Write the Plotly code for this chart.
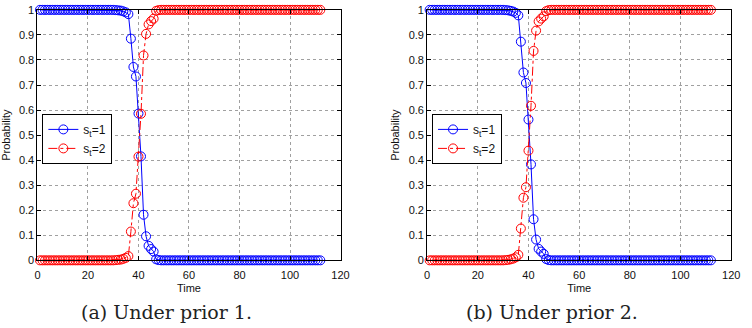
import plotly.graph_objects as go

t = list(range(1, 113))

# Panel (a): Under prior 1 -- transition values
a_trans_t = [31, 32, 33, 34, 35, 36, 37, 38, 39, 40, 41, 42, 43, 44, 45, 46, 47, 48]
a_trans_p1 = [0.999, 0.998, 0.997, 0.994, 0.99, 0.983, 0.885, 0.772, 0.734, 0.586,
              0.415, 0.182, 0.096, 0.058, 0.045, 0.035, 0.004, 0.001]
# Panel (b): Under prior 2
b_trans_t = [31, 32, 33, 34, 35, 36, 37, 38, 39, 40, 41, 42, 43, 44, 45, 46, 47, 48]
b_trans_p1 = [0.999, 0.998, 0.996, 0.993, 0.988, 0.978, 0.873, 0.75, 0.708, 0.562,
              0.383, 0.164, 0.083, 0.046, 0.035, 0.026, 0.005, 0.001]


def build(trans_t, trans_p1):
    p1 = []
    for ti in t:
        if ti in trans_t:
            p1.append(trans_p1[trans_t.index(ti)])
        elif ti < trans_t[0]:
            p1.append(1.0)
        else:
            p1.append(0.0)
    p2 = [round(1 - v, 4) for v in p1]
    return p1, p2


a_p1, a_p2 = build(a_trans_t, a_trans_p1)
b_p1, b_p2 = build(b_trans_t, b_trans_p1)

x_ticks = [0, 20, 40, 60, 80, 100, 120]
y_ticks = [0, 0.1, 0.2, 0.3, 0.4, 0.5, 0.6, 0.7, 0.8, 0.9, 1]
y_ticktext = ["0", "0.1", "0.2", "0.3", "0.4", "0.5", "0.6", "0.7", "0.8", "0.9", "1"]
captions = ["(a) Under prior 1.", "(b) Under prior 2."]
series_names = ["s<sub>t</sub>=1", "s<sub>t</sub>=2"]

W, H = 752, 328
fig = go.Figure()

panels = [
    (a_p1, a_p2, "x", "y", "legend", (35, 343), 166),
    (b_p1, b_p2, "x2", "y2", "legend2", (431, 740), 558),
]

for i, (p1, p2, xa, ya, lg, (xl, xr), cx) in enumerate(panels):
    fig.add_trace(go.Scatter(
        x=t, y=p1, xaxis=xa, yaxis=ya, mode="lines+markers", name=series_names[0],
        line=dict(color="#0000FF", width=1),
        marker=dict(symbol="circle-open", size=9, color="#0000FF", line=dict(width=1)),
        cliponaxis=False, legend=lg))
    fig.add_trace(go.Scatter(
        x=t, y=p2, xaxis=xa, yaxis=ya, mode="lines+markers", name=series_names[1],
        line=dict(color="#FF0000", width=1, dash="dashdot"),
        marker=dict(symbol="circle-open", size=9, color="#FF0000", line=dict(width=1)),
        cliponaxis=False, legend=lg))

ytop, ybot = 4, 264
ydom = [(H - ybot) / H, (H - ytop) / H]

axis_common = dict(
    showgrid=True, gridcolor="#a0a0a0", griddash="dot", gridwidth=1,
    showline=True, linecolor="black", linewidth=1, mirror="ticks",
    ticks="inside", ticklen=4, tickcolor="black", zeroline=False,
    ticklabeloverflow="allow",
    tickfont=dict(family="Liberation Sans", size=11, color="#111"),
)

for i, (p1, p2, xa, ya, lg, (xl, xr), cx) in enumerate(panels):
    sfx = "" if i == 0 else "2"
    fig.layout["xaxis" + sfx] = dict(
        axis_common, domain=[xl / W, xr / W], range=[0, 120], tickvals=x_ticks,
        anchor="y" + sfx, ticklabelstandoff=4,
        title=dict(text="Time", font=dict(family="Liberation Sans", size=11, color="#111"), standoff=4))
    fig.layout["yaxis" + sfx] = dict(
        axis_common, domain=ydom, range=[0, 1], tickvals=y_ticks, ticktext=y_ticktext,
        anchor="x" + sfx,
        title=dict(text="Probability", font=dict(family="Liberation Sans", size=11, color="#111"), standoff=6))
    fig.layout[lg] = dict(
        x=(xl + 5) / W, y=(H - 112) / H, xanchor="left", yanchor="top",
        bordercolor="black", borderwidth=1, bgcolor="white",
        font=dict(family="Liberation Sans", size=12, color="#111"),
        tracegroupgap=0, itemwidth=30)
    fig.add_annotation(
        text=captions[i], x=cx / W, y=(H - 318) / H, xref="paper", yref="paper",
        showarrow=False, xanchor="center", yanchor="middle",
        font=dict(family="DejaVu Serif", size=19, color="#222"))

fig.update_layout(
    width=W, height=H, margin=dict(l=0, r=0, t=0, b=0),
    paper_bgcolor="white", plot_bgcolor="white", showlegend=True,
)

fig.write_html("out.html")
